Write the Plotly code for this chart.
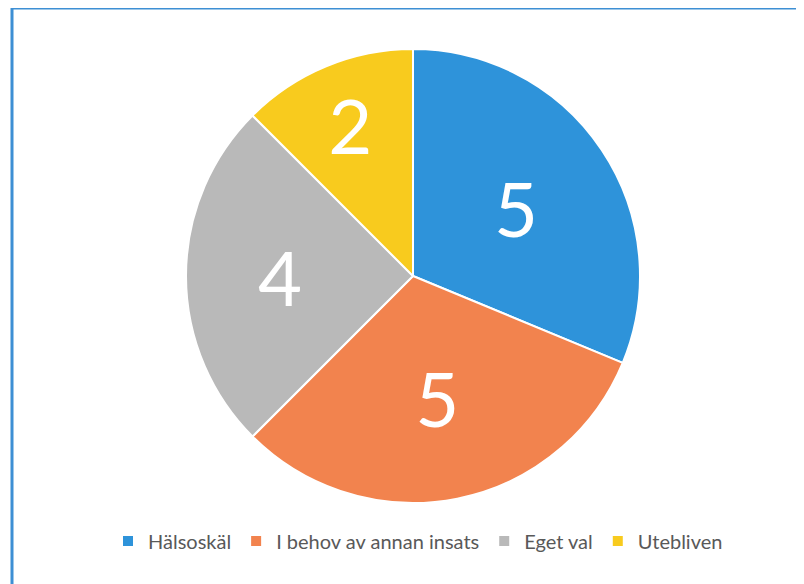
import plotly.graph_objects as go

labels = ["Hälsoskäl", "I behov av annan insats", "Eget val", "Utebliven"]
values = [5, 5, 4, 2]
colors = ["#2E93DA", "#F2834E", "#B9B9B9", "#F8CB1E"]

W, H = 804, 584
off = 8  # page body margin
cx, cy, r = 413 - off, 276 - off, 227

fig = go.Figure(go.Pie(
    labels=labels,
    values=values,
    sort=False,
    direction="clockwise",
    rotation=0,
    marker=dict(colors=colors, line=dict(color="white", width=2)),
    textinfo="value",
    textposition="inside",
    insidetextorientation="horizontal",
    textfont=dict(family="Lato", size=76, color="white"),
    domain=dict(x=[(cx - r) / W, (cx + r) / W], y=[1 - (cy + r) / H, 1 - (cy - r) / H]),
    hoverinfo="label+value",
))

fig.update_layout(
    width=W, height=H,
    margin=dict(l=0, r=0, t=0, b=0),
    paper_bgcolor="white",
    plot_bgcolor="white",
    showlegend=True,
    legend=dict(
        orientation="h",
        x=(418 - off) / W, xanchor="center",
        y=1 - (541 - off) / H, yanchor="middle",
        font=dict(family="Lato", size=20, color="#595959"),
        itemwidth=30,
        traceorder="normal",
    ),
    shapes=[dict(
        type="rect", xref="paper", yref="paper",
        x0=(12 - off) / W, x1=1.05, y0=-0.05, y1=1.0,
        line=dict(color="#3D8FD4", width=3),
        fillcolor="rgba(0,0,0,0)", layer="below",
    )],
)

fig.write_html("out.html")
